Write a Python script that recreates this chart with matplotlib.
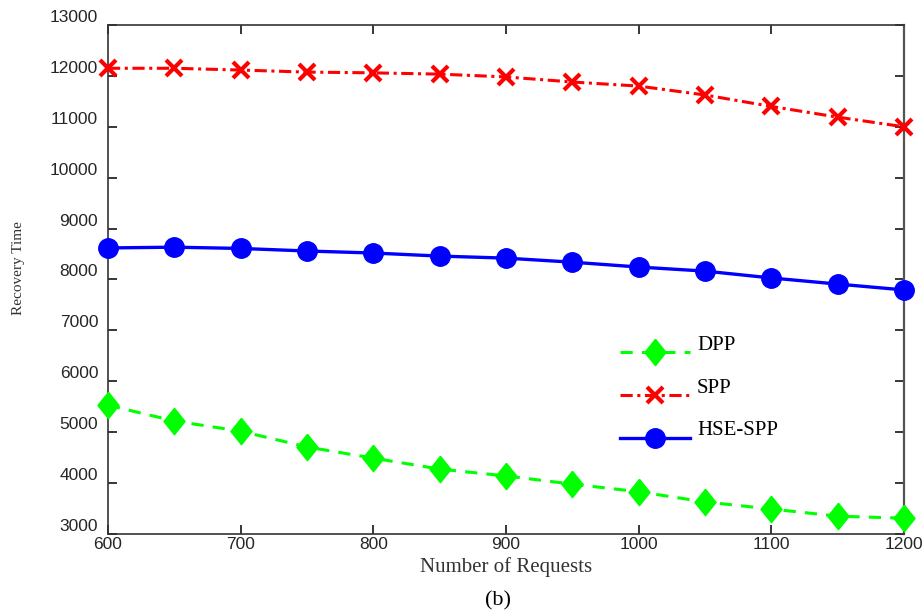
import matplotlib
matplotlib.use("Agg")
import matplotlib.pyplot as plt
from matplotlib.transforms import ScaledTranslation

# data
requests = [600, 650, 700, 750, 800, 850, 900, 950, 1000, 1050, 1100, 1150, 1200]
dpp = [5530, 5220, 5020, 4710, 4490, 4275, 4140, 3980, 3830, 3630, 3490, 3350, 3310]
spp = [12150, 12150, 12115, 12075, 12060, 12035, 11980, 11880, 11800, 11625, 11400, 11190, 11000]
hse_spp = [8620, 8635, 8610, 8560, 8520, 8460, 8420, 8340, 8245, 8165, 8030, 7910, 7795]

x_ticks = [600, 700, 800, 900, 1000, 1100, 1200]
y_ticks = [3000, 4000, 5000, 6000, 7000, 8000, 9000, 10000, 11000, 12000, 13000]

serif = ['Liberation Serif', 'DejaVu Serif']
sans = ['Liberation Sans', 'DejaVu Sans']

fig = plt.figure(figsize=(9.22, 6.13), dpi=100)
ax = fig.add_axes([0.1171, 0.1289, 0.8634, 0.8303])

# diamond a bit narrower than it is tall
diamond = [(0, 1), (0.8, 0), (0, -1), (-0.8, 0), (0, 1)]

ax.plot(requests, dpp, color='#00ff00', linestyle=(0, (4, 3)), linewidth=2.2,
        marker=diamond, markersize=19, label='DPP', clip_on=False, zorder=3)
ax.plot(requests, spp, color='#ff0000', linestyle=(0, (4, 1.5, 1, 1.5)), linewidth=2.2,
        marker='x', markersize=12, markeredgewidth=3, label='SPP', clip_on=False, zorder=3)
ax.plot(requests, hse_spp, color='#0000ff', linestyle='-', linewidth=2.4,
        marker='o', markersize=14, label='HSE-SPP', clip_on=False, zorder=3)

ax.set_xlim(600, 1200)
ax.set_ylim(3000, 13000)
ax.set_xticks(x_ticks)
ax.set_yticks(y_ticks)
ax.tick_params(direction='in', length=6.5, width=1.3, top=True, right=True,
               labelsize=12.5, labelcolor='#262626', color='#262626')
ax.tick_params(axis='x', pad=2)
ax.tick_params(axis='y', pad=7)
for lbl in ax.get_xticklabels() + ax.get_yticklabels():
    lbl.set_family(sans)

# y tick labels sit a little above their ticks in the original
up = ScaledTranslation(0, 6.5 / 72, fig.dpi_scale_trans)
for lbl in ax.get_yticklabels():
    lbl.set_transform(lbl.get_transform() + up)

for side in ['left', 'bottom', 'top']:
    ax.spines[side].set_color('#333333')
    ax.spines[side].set_linewidth(1.2)
ax.spines['right'].set_color('#555555')
ax.spines['right'].set_linewidth(1.6)

ax.set_xlabel('Number of Requests', fontsize=15, family=serif, color='#333333')
ax.set_ylabel('Recovery Time', fontsize=11, family=serif, color='#333333')
ax.xaxis.set_label_coords(0.5, -0.045)
ax.yaxis.set_label_coords(-0.104, 0.523)

leg = ax.legend(loc='upper left', bbox_to_anchor=(0.643, 0.371), frameon=False,
                prop={'family': serif, 'size': 15}, borderpad=0, borderaxespad=0,
                handlelength=3.35, handletextpad=0.35, labelspacing=1.11)
for t in leg.get_texts():
    t.set_transform(t.get_transform() + ScaledTranslation(0, 7 / 72, fig.dpi_scale_trans))

fig.text(0.54, 1 - 601 / 613, '(b)', ha='center', va='center', fontsize=16, family=serif)

fig.savefig('out.png', dpi=100)
